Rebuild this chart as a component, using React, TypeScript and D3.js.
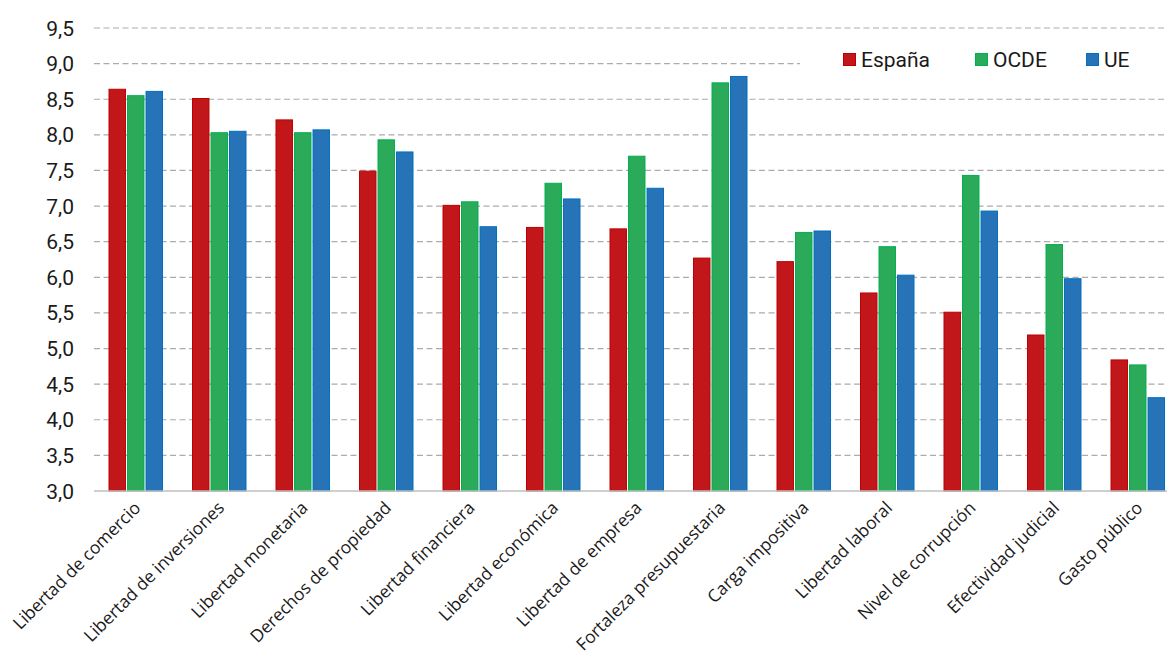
import React from "react";
import * as d3 from "d3";

const categories = [
  "Libertad de comercio",
  "Libertad de inversiones",
  "Libertad monetaria",
  "Derechos de propiedad",
  "Libertad financiera",
  "Libertad económica",
  "Libertad de empresa",
  "Fortaleza presupuestaria",
  "Carga impositiva",
  "Libertad laboral",
  "Nivel de corrupción",
  "Efectividad judicial",
  "Gasto público",
];

const seriesNames = ["España", "OCDE", "UE"];

const espana = [8.64, 8.51, 8.21, 7.49, 7.01, 6.7, 6.68, 6.27, 6.22, 5.78, 5.51, 5.19, 4.84];
const ocde = [8.55, 8.03, 8.03, 7.93, 7.06, 7.32, 7.7, 8.73, 6.63, 6.43, 7.43, 6.46, 4.77];
const ue = [8.61, 8.05, 8.07, 7.76, 6.71, 7.1, 7.25, 8.82, 6.65, 6.03, 6.93, 5.98, 4.31];

const yTicks = [3.0, 3.5, 4.0, 4.5, 5.0, 5.5, 6.0, 6.5, 7.0, 7.5, 8.0, 8.5, 9.0, 9.5];

const fills = ["#C1171A", "#2BAA59", "#2773B8"];
const strokes = ["#C00000", "#00B050", "#0070C0"];

const W = 1167;
const H = 657;
const left = 94;
const bandStep = 83.5;

export default function App() {
  const values = [espana, ocde, ue];

  const x0 = d3
    .scaleBand<string>()
    .domain(categories)
    .range([left, left + bandStep * categories.length])
    .paddingInner(0)
    .paddingOuter(0);

  const x1 = d3
    .scaleBand<string>()
    .domain(seriesNames)
    .range([15, 68.5])
    .paddingInner(0.11)
    .paddingOuter(0);

  const y = d3.scaleLinear().domain([3, 9.5]).range([491, 28]);

  const fmt = (v: number) => d3.format(".1f")(v).replace(".", ",");

  return (
    <svg
      width={W}
      height={H}
      style={{ position: "absolute", left: 0, top: 0, background: "#fff" }}
    >
      {/* horizontal dashed grid */}
      {yTicks.slice(1).map((t) => (
        <line
          key={t}
          x1={left}
          x2={W}
          y1={y(t)}
          y2={y(t)}
          stroke="#ABABAB"
          strokeWidth={1.2}
          strokeDasharray="6 3.5"
        />
      ))}

      {/* y tick labels */}
      {yTicks.map((t) => (
        <text
          key={t}
          x={74}
          y={y(t)}
          dy="0.36em"
          textAnchor="end"
          fontFamily="Roboto, 'Open Sans', sans-serif"
          fontSize={21}
          fill="#1a1a1a"
        >
          {fmt(t)}
        </text>
      ))}

      {/* bars */}
      {categories.map((c, i) => (
        <g key={c} transform={`translate(${x0(c)},0)`}>
          {seriesNames.map((s, k) => {
            const v = values[k][i];
            return (
              <rect
                key={s}
                x={x1(s)}
                y={y(v)}
                width={x1.bandwidth()}
                height={y(3) - y(v)}
                fill={fills[k]}
                stroke={strokes[k]}
                strokeWidth={1}
              />
            );
          })}
        </g>
      ))}

      {/* baseline */}
      <line x1={left} x2={W} y1={y(3)} y2={y(3)} stroke="#BFBFBF" strokeWidth={1.6} />

      {/* rotated category labels */}
      {categories.map((c) => {
        const cx = (x0(c) as number) + x0.bandwidth() / 2 + 6;
        return (
          <text
            key={c}
            transform={`translate(${cx},509) rotate(-45)`}
            textAnchor="end"
            fontFamily="'Open Sans', sans-serif"
            fontSize={17.4}
            fill="#1a1a1a"
          >
            {c}
          </text>
        );
      })}

      {/* legend */}
      <rect x={800} y={42} width={367} height={40} fill="#fff" />
      {seriesNames.map((s, k) => {
        const lx = [843, 975, 1086][k];
        return (
          <g key={s} transform={`translate(${lx},0)`}>
            <rect x={0.5} y={53.5} width={12} height={12} fill={fills[k]} stroke={strokes[k]} strokeWidth={1} />
            <text
              x={18}
              y={67}
              fontFamily="Roboto, sans-serif"
              fontSize={21}
              fill="#1a1a1a"
            >
              {s}
            </text>
          </g>
        );
      })}
    </svg>
  );
}
